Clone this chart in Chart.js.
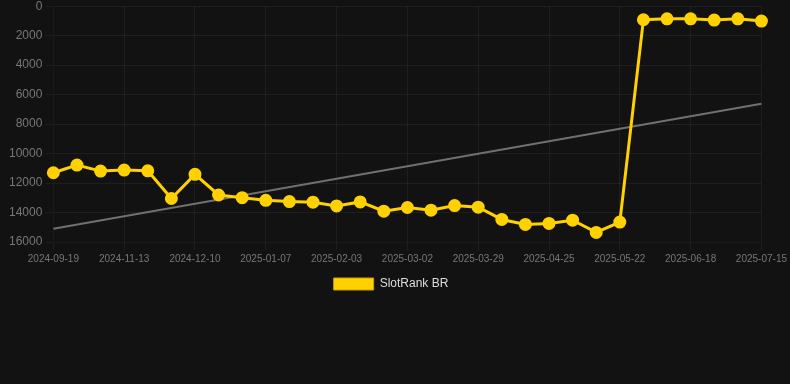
<!DOCTYPE html>
<html>
<head>
<meta charset="utf-8">
<script src="https://cdn.jsdelivr.net/npm/chart.js@4"></script>
<style>
  html, body { margin: 0; padding: 0; background: #121212; overflow: hidden; }
  #wrap { width: 790px; height: 304px; position: relative; margin-top: -4px; }
</style>
</head>
<body>
<div id="wrap"><canvas id="myChart"></canvas></div>
<script>
const dates = [
  "2024-09-19", "2024-10-08", "2024-10-26", "2024-11-13", "2024-11-22", "2024-12-01",
  "2024-12-10", "2024-12-19", "2024-12-29", "2025-01-07", "2025-01-16", "2025-01-25",
  "2025-02-03", "2025-02-12", "2025-02-21", "2025-03-02", "2025-03-11", "2025-03-20",
  "2025-03-29", "2025-04-07", "2025-04-16", "2025-04-25", "2025-05-04", "2025-05-13",
  "2025-05-22", "2025-05-31", "2025-06-09", "2025-06-18", "2025-06-27", "2025-07-06",
  "2025-07-15"
];

const rankBR = [
  11300, 10780, 11190, 11120, 11170, 13050,
  11410, 12810, 12990, 13170, 13260, 13300,
  13550, 13280, 13910, 13660, 13840, 13530,
  13640, 14470, 14810, 14740, 14520, 15350,
  14650, 920, 860, 860, 940, 860,
  1010
];

// trend line, only the two ends
const trend = dates.map(() => null);
trend[0] = 15100;
trend[dates.length - 1] = 6620;

const yTicks = [0, 2000, 4000, 6000, 8000, 10000, 12000, 14000, 16000];

const gridColor = "rgba(255,255,255,0.05)";

const data = {
  labels: dates,
  datasets: [
    {
      label: "SlotRank BR",
      data: rankBR,
      borderColor: "#FFD100",
      backgroundColor: "#FFD100",
      borderWidth: 3,
      pointRadius: 5,
      pointHoverRadius: 5,
      tension: 0
    },
    {
      label: "trend",
      data: trend,
      borderColor: "#707070",
      borderWidth: 2,
      pointRadius: 0,
      spanGaps: true
    }
  ]
};

// nudge the legend a little to the left, like the original
const legendShift = {
  id: "legendShift",
  afterLayout(chart) {
    chart.legend.left -= 7;
    chart.legend.right -= 7;
  }
};

const options = {
  responsive: true,
  maintainAspectRatio: false,
  animation: false,
  layout: { padding: { left: 6, right: 0, top: 0, bottom: 0 } },
  scales: {
    x: {
      grid: {
        color: (c) => (c.tick && c.tick.label ? gridColor : "rgba(0,0,0,0)")
      },
      ticks: {
        color: "#777",
        font: { size: 10, family: "Liberation Sans, Arial" },
        autoSkip: false,
        maxRotation: 0,
        callback: function (val, i) {
          return i % 3 === 0 ? dates[i] : "";
        }
      }
    },
    y: {
      reverse: true,
      min: 0,
      max: 16000,
      grid: { color: gridColor },
      afterBuildTicks: function (axis) {
        axis.ticks = yTicks.map((v) => ({ value: v }));
      },
      ticks: {
        color: "#777",
        font: { size: 12, family: "Liberation Sans, Arial" },
        callback: (v) => String(v)
      }
    }
  },
  plugins: {
    legend: {
      position: "bottom",
      labels: {
        color: "#ddd",
        boxWidth: 40,
        boxHeight: 12,
        padding: 10,
        font: { size: 12, family: "Liberation Sans, Arial" },
        filter: (item) => item.text !== "trend",
        generateLabels: (chart) =>
          Chart.defaults.plugins.legend.labels.generateLabels(chart).map((item) => {
            item.lineWidth = 1;
            item.strokeStyle = "#c9a300";
            return item;
          })
      }
    },
    tooltip: { enabled: false }
  }
};

const ctx = document.getElementById("myChart").getContext("2d");
const lineChart = new Chart(ctx, {
  type: "line",
  data: data,
  options: options,
  plugins: [legendShift]
});
</script>
</body>
</html>
